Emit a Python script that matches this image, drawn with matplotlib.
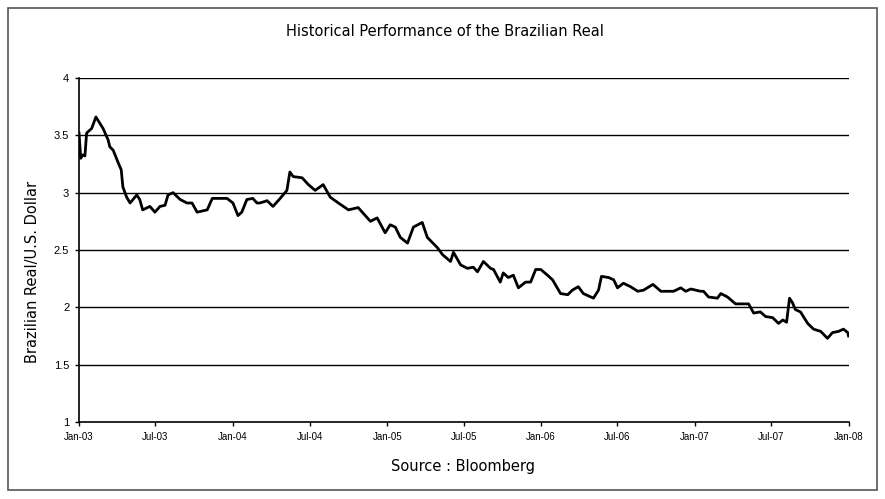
import matplotlib
matplotlib.use('Agg')
import matplotlib.pyplot as plt
from matplotlib.patches import Rectangle
import numpy as np

# BRL per USD
dates = ['2003-01-01', '2003-01-05', '2003-01-10', '2003-01-15', '2003-01-19', '2003-01-31',
         '2003-02-10', '2003-02-27', '2003-03-11', '2003-03-15', '2003-03-23', '2003-04-04',
         '2003-04-11', '2003-04-15', '2003-04-24', '2003-05-02', '2003-05-18', '2003-05-25',
         '2003-06-01', '2003-06-18', '2003-06-30', '2003-07-12', '2003-07-24', '2003-07-31',
         '2003-08-12', '2003-08-29', '2003-09-14', '2003-09-26', '2003-10-08', '2003-11-01',
         '2003-11-13', '2003-12-18', '2004-01-01', '2004-01-13', '2004-01-22', '2004-02-03',
         '2004-02-17', '2004-02-27', '2004-03-05', '2004-03-22', '2004-04-05', '2004-04-22',
         '2004-05-08', '2004-05-15', '2004-05-23', '2004-06-13', '2004-06-28', '2004-07-14',
         '2004-08-02', '2004-08-19', '2004-09-07', '2004-10-01', '2004-10-24', '2004-11-22',
         '2004-12-08', '2004-12-27', '2005-01-08', '2005-01-20', '2005-02-01', '2005-02-18',
         '2005-03-04', '2005-03-25', '2005-04-06', '2005-04-30', '2005-05-12', '2005-05-31',
         '2005-06-07', '2005-06-24', '2005-07-10', '2005-07-24', '2005-08-03', '2005-08-17',
         '2005-09-03', '2005-09-10', '2005-09-26', '2005-10-03', '2005-10-15', '2005-10-27',
         '2005-11-08', '2005-11-25', '2005-12-07', '2005-12-19', '2005-12-31', '2006-01-16',
         '2006-01-28', '2006-02-16', '2006-03-05', '2006-03-16', '2006-03-30', '2006-04-11',
         '2006-05-05', '2006-05-17', '2006-05-24', '2006-06-10', '2006-06-22', '2006-07-01',
         '2006-07-15', '2006-08-01', '2006-08-18', '2006-09-01', '2006-09-23', '2006-10-12',
         '2006-11-11', '2006-11-28', '2006-12-10', '2006-12-22', '2007-01-14', '2007-01-21',
         '2007-02-02', '2007-02-23', '2007-03-03', '2007-03-19', '2007-04-07', '2007-05-08',
         '2007-05-20', '2007-06-05', '2007-06-17', '2007-07-04', '2007-07-18', '2007-07-28',
         '2007-08-06', '2007-08-13', '2007-08-20', '2007-08-27', '2007-09-08', '2007-09-25',
         '2007-10-09', '2007-10-26', '2007-11-11', '2007-11-23', '2007-12-07', '2007-12-19',
         '2007-12-29', '2007-12-31']
rate = [3.52, 3.30, 3.33, 3.32, 3.52, 3.56,
        3.66, 3.56, 3.46, 3.40, 3.37, 3.26,
        3.20, 3.05, 2.96, 2.91, 2.98, 2.94,
        2.85, 2.88, 2.83, 2.88, 2.89, 2.98,
        3.00, 2.94, 2.91, 2.91, 2.83, 2.85,
        2.95, 2.95, 2.91, 2.80, 2.83, 2.94,
        2.95, 2.91, 2.91, 2.93, 2.88, 2.95,
        3.02, 3.18, 3.14, 3.13, 3.07, 3.02,
        3.07, 2.96, 2.91, 2.85, 2.87, 2.75,
        2.78, 2.65, 2.72, 2.70, 2.61, 2.56,
        2.70, 2.74, 2.61, 2.52, 2.46, 2.40,
        2.48, 2.37, 2.34, 2.35, 2.31, 2.40,
        2.34, 2.33, 2.22, 2.30, 2.26, 2.28,
        2.17, 2.22, 2.22, 2.33, 2.33, 2.28,
        2.24, 2.12, 2.11, 2.15, 2.18, 2.12,
        2.08, 2.15, 2.27, 2.26, 2.24, 2.17,
        2.21, 2.18, 2.14, 2.15, 2.20, 2.14,
        2.14, 2.17, 2.14, 2.16, 2.14, 2.14,
        2.09, 2.08, 2.12, 2.09, 2.03, 2.03,
        1.95, 1.96, 1.92, 1.91, 1.86, 1.89,
        1.87, 2.08, 2.04, 1.98, 1.96, 1.86,
        1.81, 1.79, 1.73, 1.78, 1.79, 1.81,
        1.78, 1.75]

tick_dates = ['2003-01-01', '2003-07-01', '2004-01-01', '2004-07-01', '2005-01-01', '2005-07-01',
              '2006-01-01', '2006-07-01', '2007-01-01', '2007-07-01', '2008-01-01']
tick_labels = ['Jan-03', 'Jul-03', 'Jan-04', 'Jul-04', 'Jan-05', 'Jul-05',
               'Jan-06', 'Jul-06', 'Jan-07', 'Jul-07', 'Jan-08']
y_ticks = [1, 1.5, 2, 2.5, 3, 3.5, 4]
y_labels = ['1', '1.5', '2', '2.5', '3', '3.5', '4']

plt.rcParams['font.family'] = ['Liberation Sans', 'DejaVu Sans']

x = np.array(dates, dtype='datetime64[D]')
xt = np.array(tick_dates, dtype='datetime64[D]')

fig = plt.figure(figsize=(8.85, 4.99), dpi=100)
ax = fig.add_axes([0.0893, 0.1543, 0.8700, 0.6894])

for v in y_ticks[1:]:
    ax.axhline(v, color='black', lw=1.0, zorder=1)
ax.plot(x, rate, color='black', lw=2.0, zorder=3)

ax.set_xlim(xt[0], xt[-1])
ax.set_ylim(1, 4)
ax.set_xticks(xt)
ax.set_xticklabels(tick_labels, fontsize=7)
ax.set_yticks(y_ticks)
ax.set_yticklabels(y_labels, fontsize=8)
ax.tick_params(direction='out', length=3, width=1, color='black', pad=4)
for s in ['top', 'right']:
    ax.spines[s].set_visible(False)
for s in ['left', 'bottom']:
    ax.spines[s].set_linewidth(1.2)

# titles placed in figure pixels, as in the reference
fig.text(445 / 885, 1 - 32 / 499, 'Historical Performance of the Brazilian Real',
         fontsize=10.5, family='DejaVu Sans', ha='center', va='center')
fig.text(463 / 885, 1 - 467 / 499, 'Source : Bloomberg',
         fontsize=10.5, family='DejaVu Sans', ha='center', va='center')
fig.text(33 / 885, 1 - 272 / 499, 'Brazilian Real/U.S. Dollar',
         fontsize=10.5, family='DejaVu Sans', ha='center', va='center', rotation=90)

fig.patches.append(Rectangle((8 / 885, 9 / 499), 869 / 885, 482 / 499,
                             transform=fig.transFigure, fill=False,
                             edgecolor='#555555', lw=1.2))

fig.savefig('out.png', dpi=100)
